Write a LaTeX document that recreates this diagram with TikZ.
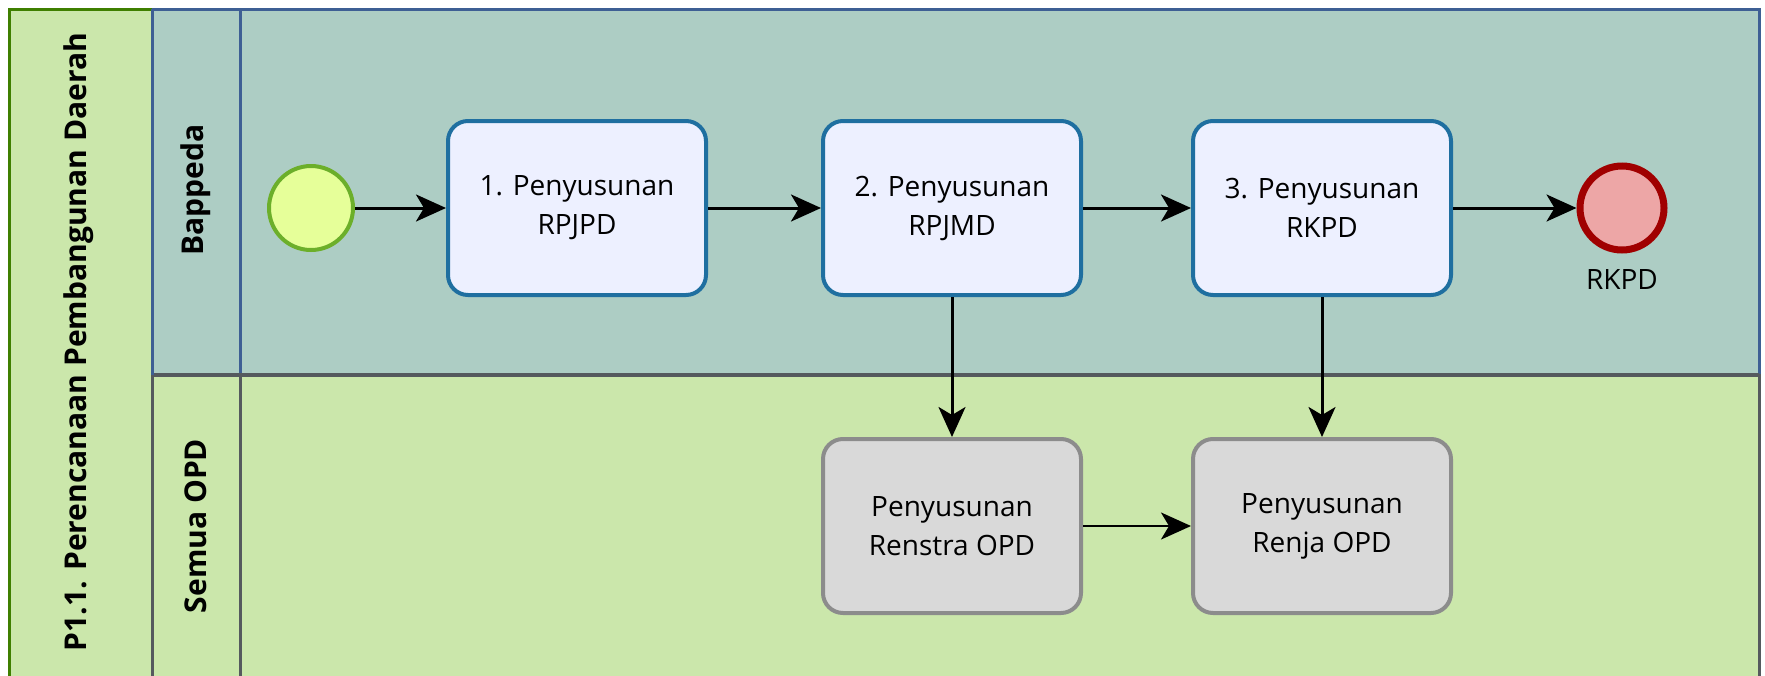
\documentclass[tikz,border=0pt]{standalone}
\usepackage{fontspec}
\setmainfont{Open Sans}
\usetikzlibrary{arrows.meta}
\definecolor{poolgreen}{HTML}{3F7F00}
\definecolor{lanegreen}{HTML}{CBE7AB}
\definecolor{laneteal}{HTML}{ADCDC4}
\definecolor{laneblue}{HTML}{3E5F94}
\definecolor{lanegray}{HTML}{555A5E}
\definecolor{taskfill}{HTML}{EDF0FF}
\definecolor{taskline}{HTML}{1F6FA0}
\definecolor{grayfill}{HTML}{D9D9D9}
\definecolor{grayline}{HTML}{8C8C8C}
\definecolor{startfill}{HTML}{E6FF99}
\definecolor{startline}{HTML}{6CAF2A}
\definecolor{endfill}{HTML}{EDA6A6}
\definecolor{endline}{HTML}{A00000}
\tikzset{
  tasktext/.style={font=\fontsize{28}{39}\selectfont, align=center},
  bluetask/.style={tasktext, rectangle, rounded corners=20pt, draw=taskline, fill=taskfill,
    line width=4pt, minimum width=258pt, minimum height=174pt, inner sep=0pt},
  graytask/.style={tasktext, rectangle, rounded corners=20pt, draw=grayline, fill=grayfill,
    line width=4pt, minimum width=258pt, minimum height=174pt, inner sep=0pt},
  startevt/.style={circle, draw=startline, fill=startfill, line width=4pt, minimum size=84pt, inner sep=0pt},
  endevt/.style={circle, draw=endline, fill=endfill, line width=7pt, minimum size=84pt, inner sep=0pt},
  flow/.style={line width=3pt, -{Stealth[length=30pt, width=27pt, inset=8pt]}},
  lanelabel/.style={rotate=90, font=\fontsize{30}{34}\selectfont\bfseries},
}
\begin{document}
\begin{tikzpicture}[x=1pt, y=-1pt]
\useasboundingbox (0,0) rectangle (1765,675);
\begin{scope}
\clip (0,0) rectangle (1765,675);
% pool label column and lanes
\fill[lanegreen] (9,9) rectangle (152,700);
\draw[laneblue, line width=3pt, fill=laneteal] (152,9) rectangle (1759,375);
\draw[lanegray, line width=3pt, fill=lanegreen] (152,375) rectangle (1759,700);
\draw[laneblue, line width=3pt] (240,9) -- (240,375);
\draw[lanegray, line width=3pt] (240,375) -- (240,700);
\draw[lanegray, line width=4pt] (152,375) -- (1759,375);
% pool outline
\draw[poolgreen, line width=3pt] (152,9) -- (9,9) -- (9,700);
\draw[laneblue, line width=3pt] (152,9) -- (152,375);
\draw[lanegray, line width=3pt] (152,375) -- (152,700);
\end{scope}

% labels of pool and lanes
\node[lanelabel] (pool) at (79,342) {P1.1. Perencanaan Pembangunan Daerah};
\node[lanelabel] (bappeda) at (196,190) {Bappeda};
\node[lanelabel] (opd) at (196,526) {Semua OPD};

% Bappeda lane
\node[startevt] (start) at (311,208) {};
\node[bluetask] (t1) at (577,208) {1. Penyusunan\\RPJPD};
\node[bluetask] (t2) at (952,208) {2. Penyusunan\\RPJMD};
\node[bluetask] (t3) at (1322,208) {3. Penyusunan\\RKPD};
\node[endevt] (end) at (1622,208) {};
\node[tasktext, anchor=north] (endlbl) at (1622,266) {RKPD};

% Semua OPD lane
\node[graytask] (renstra) at (952,526) {Penyusunan\\Renstra OPD};
\node[graytask] (renja) at (1322,526) {Penyusunan\\Renja OPD};

% sequence flows
\draw[flow] (start) -- (t1);
\draw[flow] (t1) -- (t2);
\draw[flow] (t2) -- (t3);
\draw[flow] (t3) -- (end);
\draw[flow] (t2) -- (renstra);
\draw[flow] (t3) -- (renja);
\draw[flow, line width=2.5pt] (renstra) -- (renja);
\end{tikzpicture}
\end{document}
